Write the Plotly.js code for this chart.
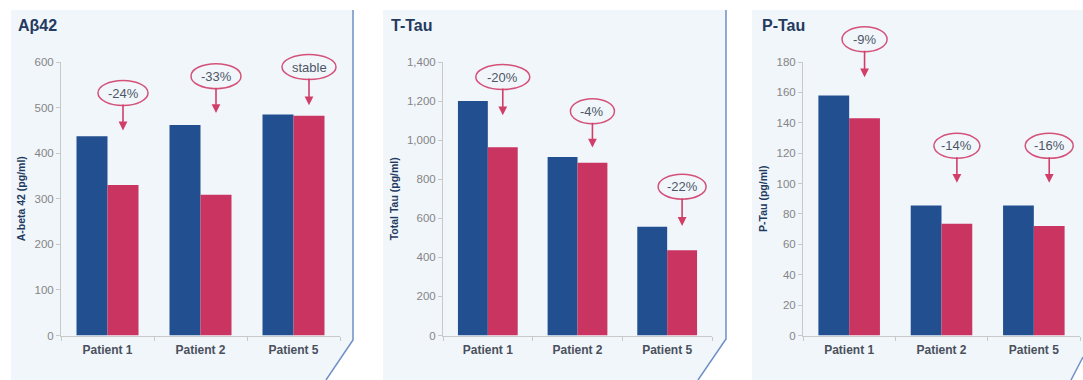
<!DOCTYPE html>
<html>
<head>
<meta charset="utf-8">
<script src="https://cdn.plot.ly/plotly-3.0.1.min.js"></script>
<style>html,body{margin:0;padding:0;background:#fff;}#chart{width:1083px;height:380px;}</style>
</head>
<body>
<div id="chart"></div>
<script>
// ---- data ----
var categories = ['Patient 1', 'Patient 2', 'Patient 5'];
var abetaBefore = [437, 462, 485];
var abetaAfter  = [330, 309, 482];
var ttauBefore  = [1200, 914, 557];
var ttauAfter   = [964, 884, 437];
var ptauBefore  = [158, 85.5, 85.5];
var ptauAfter   = [143, 73.5, 72];
var abetaChange = ['-24%', '-33%', 'stable'];
var ttauChange  = ['-20%', '-4%', '-22%'];
var ptauChange  = ['-9%', '-14%', '-16%'];
var panelTitles = ['A\u03b242', 'T-Tau', 'P-Tau'];
var yTitles = ['A-beta 42 (pg/ml)', 'Total Tau (pg/ml)', 'P-Tau (pg/ml)'];

// ---- layout config (positions / styles) ----
var W = 1083, H = 380;
var BLUE = '#224f8f', RED = '#c93461';
var FONT = 'Liberation Sans, Arial, sans-serif';
var yDom = [1 - 335.5 / H, 1 - 62 / H];
var panels = [
  {before: abetaBefore, after: abetaAfter, change: abetaChange, range: 600, dtick: 100, fmt: 'd',
   xdom: [61 / W, 340 / W], labelY: [532, 569, 589], tipY: [450, 488, 505], ew: [50, 50, 54],
   bg: [[11, 10], [353, 10], [353, 340], [326, 380], [11, 380]], border: [[353, 10], [353, 340], [326, 380]], titleX: 16},
  {before: ttauBefore, after: ttauAfter, change: ttauChange, range: 1400, dtick: 200, fmt: ',d',
   xdom: [443 / W, 712 / W], labelY: [1323, 1148, 762], tipY: [1127, 962, 561], ew: [54, 44, 48],
   bg: [[383, 10], [726, 10], [726, 339], [698, 380], [383, 380]], border: [[726, 10], [726, 339], [698, 380]], titleX: 389},
  {before: ptauBefore, after: ptauAfter, change: ptauChange, range: 180, dtick: 20, fmt: 'd',
   xdom: [803 / W, 1080 / W], labelY: [195, 124.8, 124.8], tipY: [170, 100.5, 100.5], ew: [45, 46, 48],
   bg: [[752, 10], [1083, 10], [1083, 357], [1071, 380], [752, 380]], border: [[1083, 357], [1071, 380]], titleX: 760}
];
var BARGAP = 1 / 3;
var redOffset = (1 - BARGAP) / 4;

function P(pt) { return (pt[0] / W) + ',' + (1 - pt[1] / H); }
function pathOf(pts, close) {
  return 'M' + pts.map(P).join('L') + (close ? 'Z' : '');
}
function yPaper(v, range) { return yDom[0] + v / range * (yDom[1] - yDom[0]); }

var data = [];
var shapes = [];
var annotations = [];
var layout = {
  width: W, height: H,
  margin: {l: 0, r: 0, t: 0, b: 0, pad: 0},
  paper_bgcolor: '#ffffff',
  plot_bgcolor: 'rgba(0,0,0,0)',
  showlegend: false,
  barmode: 'group',
  bargap: BARGAP,
  bargroupgap: 0,
  font: {family: FONT}
};

panels.forEach(function (p, i) {
  var sfx = i === 0 ? '' : String(i + 1);
  var xa = 'x' + sfx, ya = 'y' + sfx;
  data.push({type: 'bar', x: categories, y: p.before, xaxis: xa, yaxis: ya,
             marker: {color: BLUE, line: {width: 0}}, hoverinfo: 'none'});
  data.push({type: 'bar', x: categories, y: p.after, xaxis: xa, yaxis: ya,
             marker: {color: RED, line: {width: 0}}, hoverinfo: 'none'});

  layout['xaxis' + sfx] = {
    domain: p.xdom, anchor: ya, type: 'category',
    showline: true, linecolor: '#c9c9c9', linewidth: 1,
    ticks: 'outside', tickson: 'boundaries', ticklen: 4, tickcolor: '#c9c9c9',
    ticklabelstandoff: 3,
    tickfont: {family: FONT, size: 12, color: '#4a505c', weight: 700},
    showgrid: false, zeroline: false, fixedrange: true
  };
  layout['yaxis' + sfx] = {
    domain: yDom, anchor: xa, range: [0, p.range], dtick: p.dtick, tickformat: p.fmt,
    showline: true, linecolor: '#c9c9c9', linewidth: 1,
    ticks: 'outside', ticklen: 4, tickcolor: '#c9c9c9',
    tickfont: {family: FONT, size: 11.5, color: '#858585'},
    showgrid: false, zeroline: false, fixedrange: true,
    title: {text: yTitles[i], font: {family: FONT, size: 10.5, color: '#1f3a5f', weight: 700}, standoff: 6}
  };

  // panel background & border
  shapes.push({type: 'path', xref: 'paper', yref: 'paper', layer: 'below',
               path: pathOf(p.bg, true), fillcolor: '#f1f6fb', line: {width: 0}});
  shapes.push({type: 'path', xref: 'paper', yref: 'paper', layer: 'above',
               path: pathOf(p.border, false), line: {color: '#6f8fc6', width: 1.5}});

  // panel title
  annotations.push({xref: 'paper', yref: 'paper', x: p.titleX / W, y: 1 - 26 / H,
                    xanchor: 'left', yanchor: 'middle', showarrow: false, text: panelTitles[i],
                    font: {family: FONT, size: 16, color: '#243a5e', weight: 700}});

  // change call-outs
  p.change.forEach(function (txt, k) {
    var xc = k + redOffset;
    annotations.push({xref: xa, yref: ya, x: xc, y: p.tipY[k],
                      axref: xa, ayref: ya, ax: xc, ay: p.labelY[k],
                      text: txt, showarrow: true, arrowhead: 2, arrowsize: 1.1, arrowwidth: 1.6,
                      arrowcolor: '#d13f69', borderpad: 4, borderwidth: 0,
                      font: {family: FONT, size: 13, color: '#4e5666'}});
    shapes.push({type: 'circle', xref: xa, yref: 'paper', xsizemode: 'pixel', ysizemode: 'pixel',
                 xanchor: xc, yanchor: yPaper(p.labelY[k], p.range),
                 x0: -p.ew[k] / 2, x1: p.ew[k] / 2, y0: -12.5, y1: 12.5,
                 line: {color: '#d4527a', width: 1.5}, fillcolor: 'rgba(0,0,0,0)'});
  });
});

layout.shapes = shapes;
layout.annotations = annotations;

Plotly.newPlot('chart', data, layout, {staticPlot: true, displayModeBar: false});
</script>
</body>
</html>
